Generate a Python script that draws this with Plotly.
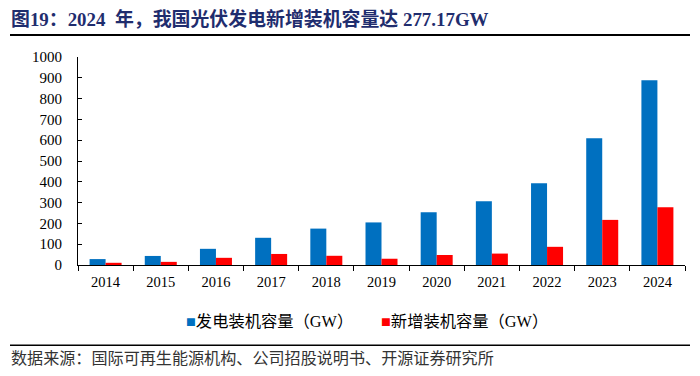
import plotly.graph_objects as go

years = ["2014", "2015", "2016", "2017", "2018", "2019", "2020", "2021", "2022", "2023", "2024"]
cumulative = [28.4, 43.5, 77.8, 130.8, 175.0, 204.7, 253.8, 306.6, 393.0, 609.4, 887.9]
added = [10.6, 15.1, 34.5, 53.1, 44.3, 30.1, 48.2, 54.9, 87.4, 216.9, 277.2]
y_ticks = [0, 100, 200, 300, 400, 500, 600, 700, 800, 900, 1000]

name1 = "发电装机容量（GW）"
name2 = "新增装机容量（GW）"
color1 = "#0070C0"
color2 = "#FF0000"
title_text = "图19：2024  年，我国光伏发电新增装机容量达 277.17GW"
source_text = "数据来源：国际可再生能源机构、公司招股说明书、开源证券研究所"

serif = "Liberation Serif, Times New Roman, Noto Sans CJK SC, serif"
cjk = "Liberation Serif, Noto Sans CJK SC, serif"

# page offset of the plot div (default body margin)
OFF = 8
W, H = 700, 376
# plot area in page pixels
L, R, T, B = 78 - OFF, 685 - OFF, 57 - OFF, 265 - OFF
pw, ph = R - L, B - T

def px(x):
    return (x - OFF - L) / pw

def py(y):
    return (B - (y - OFF)) / ph

fig = go.Figure()
fig.add_trace(go.Bar(x=years, y=cumulative, name=name1, marker_color=color1,
                     marker_line_width=0))
fig.add_trace(go.Bar(x=years, y=added, name=name2, marker_color=color2,
                     marker_line_width=0))

def legend_item(x, color, name):
    return dict(text="<span style='color:%s'>■</span>%s" % (color, name),
                xref="paper", yref="paper", x=px(x), y=py(321),
                xanchor="left", yanchor="middle", showarrow=False,
                font=dict(family=cjk, size=16.3, color="#000000"))

fig.update_layout(
    width=W, height=H,
    margin=dict(l=L, r=W - R, t=T, b=H - B),
    paper_bgcolor="white", plot_bgcolor="white",
    barmode="group", bargap=0.42, bargroupgap=0,
    font=dict(family=cjk, color="#000000", size=13),
    showlegend=False,
    xaxis=dict(type="category", showline=True, linecolor="#000000", linewidth=1,
               ticks="outside", tickson="boundaries", ticklen=5, tickcolor="#000000",
               tickfont=dict(family=serif, size=14.5, color="#000000"),
               ticklabelstandoff=4,
               showgrid=False, zeroline=False),
    yaxis=dict(range=[0, 1000], tickvals=y_ticks, showline=True, linecolor="#000000",
               linewidth=1, ticks="inside", ticklen=4, tickcolor="#000000",
               tickfont=dict(family=serif, size=15, color="#000000"),
               ticklabelstandoff=12,
               showgrid=False, zeroline=False),
    annotations=[
        dict(text="<b>" + title_text + "</b>", xref="paper", yref="paper",
             x=px(9), y=py(19), xanchor="left", yanchor="middle", showarrow=False,
             font=dict(family=cjk, size=18.9, color="#1F2D6E")),
        legend_item(184, color1, name1),
        legend_item(379, color2, name2),
        dict(text=source_text, xref="paper", yref="paper",
             x=px(9), y=py(358), xanchor="left", yanchor="middle", showarrow=False,
             font=dict(family=cjk, size=16.1, color="#333333")),
    ],
)
fig.add_shape(type="rect", xref="paper", yref="paper", x0=px(10), x1=px(690),
              y0=py(34), y1=py(36), layer="above", fillcolor="#000000",
              line=dict(width=0))
fig.add_shape(type="rect", xref="paper", yref="paper", x0=px(10), x1=px(690),
              y0=py(344.5), y1=py(346), layer="above", fillcolor="#000000",
              line=dict(width=0))

fig.write_html("out.html", config={"displayModeBar": False})
